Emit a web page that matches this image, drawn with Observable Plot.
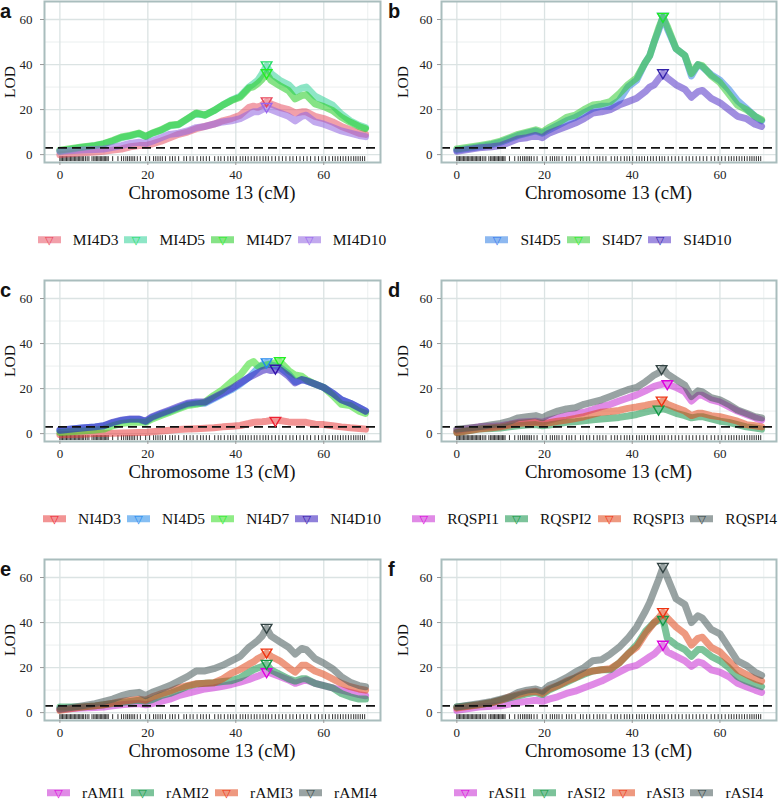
<!DOCTYPE html>
<html><head><meta charset="utf-8">
<script src="https://cdn.jsdelivr.net/npm/d3@7"></script>
<script src="https://cdn.jsdelivr.net/npm/@observablehq/plot@0.6"></script>
<style>
body{margin:0;background:#fff}
#root{position:relative;width:778px;height:804px;overflow:hidden;font-family:"Liberation Serif",serif;color:#111}
.abs{position:absolute}
.letter{font-family:"Liberation Sans",Arial,sans-serif;font-weight:bold;font-size:20px;line-height:1}
.ylab{font-size:15.5px;line-height:1;transform:translate(-50%,-50%) rotate(-90deg);white-space:nowrap}
.xlab{font-size:18.8px;line-height:1;transform:translate(-50%,-50%);white-space:nowrap}
.legend{display:flex;align-items:center;transform:translateY(-50%);white-space:nowrap;font-size:15.5px;line-height:1}
.item{display:flex;align-items:center;margin-right:6px}
.item:last-child{margin-right:0}
.key{position:relative;width:23px;height:7px;margin-right:12px}
.key span{position:absolute;left:50%;top:50%;transform:translate(-50%,-52%);font-family:"DejaVu Sans",sans-serif;font-size:11px;line-height:1}
svg text{font-family:"Liberation Serif",serif !important;font-size:13px}
</style></head><body><div id="root"></div>
<script>
// ---------- data ----------
const cM = [0, 5, 8, 10, 12, 14, 16, 18, 19.5, 21, 23, 25, 27, 29, 31, 33, 35, 37, 39, 41, 43, 44, 45, 46, 47, 48, 50, 52, 53.5, 55, 56, 58, 60, 62, 64, 66, 68, 69.5];

const markers = [0,0.3,0.6,0.9,1.2,1.5,1.8,2.1,2.4,2.7,3.0,3.3,3.6,3.9,4.2,4.5,4.8,5.1,5.4,5.8,6.2,6.6,7.3,7.7,8.0,8.3,8.6,8.9,9.2,9.5,9.8,10.1,10.4,10.7,11.0,12.0,13.2,14.0,14.5,15.0,15.4,15.8,16.2,16.6,17.0,17.6,18.3,19.5,20.4,21.3,21.8,22.3,22.8,23.3,24.0,25.0,25.6,26.2,27.0,28.2,28.8,29.6,30.3,31.2,32.0,32.6,33.3,34.0,35.2,36.0,36.6,37.4,38.2,38.8,39.4,40.1,41.0,41.6,42.2,42.8,43.5,44.2,44.8,45.5,46.2,46.8,47.4,48.2,49.0,49.8,50.6,51.4,52.3,53.0,53.8,54.6,55.4,56.2,57.0,58.0,58.8,59.6,60.4,61.2,62.0,62.6,63.2,63.8,64.4,65.0,65.6,66.2,66.8,67.3,67.8,68.3,68.8,69.3];

const xTicks = [0, 20, 40, 60];
const yTicks = [0, 20, 40, 60];
const xMinor = [10, 30, 50, 70];
const yMinor = [10, 30, 50];
const threshold = [3];

// panel a
const namesA = ["MI4D3", "MI4D5", "MI4D7", "MI4D10"];
const MI4D3  = [0,0.8,1.2,1.5,2,2.5,3.5,4,4,4.8,6,7.5,9,10,11.5,12.5,13.5,15,16,17.5,21,21.5,21,22,23.5,22.5,21,20,18.5,19,19,17,16,14.5,12.5,11,9.5,9];
const MI4D5  = [1.5,3.2,4,4.8,6,7.5,8.3,9.3,8,9.4,10.8,12.8,13.3,15.8,18.3,17.5,19.5,22,24.2,26,30,31.5,33,36,39.5,36,33,31,28,29.5,30,26,24,22,18,15,13,12];
const MI4D7  = [2,3.4,4.1,4.9,6.3,7.8,8.5,9.6,8.1,9.6,11,13,13.5,16,18.5,17.5,19.5,22,24,25.5,29.6,30.1,31.6,33.5,36,33,30.6,28.4,24.7,26.2,26.6,22.5,21.3,19.6,16.6,14.4,12.5,11.5];
const MI4D10 = [1.5,2,2.3,2.5,3.2,4,5,5.5,5,6,7.5,9,9.5,10.5,12,12.5,13.5,14.5,15,16,18,19,19,20,21,20,18.5,17,15,17,17.5,14.5,13.5,12,10.5,9.5,8.5,8];
const peakXA = [47, 47, 47, 47];
const peakYA = [23.5, 39.5, 36, 21];

// panel b
const namesB = ["SI4D5", "SI4D7", "SI4D10"];
const SI4D5  = [2,3.5,4.5,5.5,7,8.5,9.5,10.5,9.5,11,13,15,16.5,18.5,20.5,21.5,21.5,24,30,33,41,44,50,55,61,56,47,44,35,40,39,35.5,33,29,24,20.5,17,15];
const SI4D7  = [2.5,4,5,6,7.5,9,10,11,10,12,14,16.5,17.5,20,22,22.5,23.5,27,31,34,41,44,50,56,61,57,47,44,36,40,39.5,35,32,27,22,20,17,15.5];
const SI4D10 = [1.5,3,3.5,4,5.5,7,7.5,8.5,7.5,9.5,11,12.5,14,16,18.5,19,20,22,23.5,25,28,30,31,33.5,36,34,31,29,25.5,28,28.5,25,23,20,17,16,13.5,12.5];
const peakXB = [47, 47, 47];
const peakYB = [61, 61, 36];

// panel c
const namesC = ["NI4D3", "NI4D5", "NI4D7", "NI4D10"];
const NI4D3  = [-0.5,-0.3,0,0,0.2,0.3,0.4,0.5,0.5,0.8,1.2,1.5,1.8,2,2.2,2.4,2.6,3,3.3,3.6,4.5,5,5.2,5.3,5.5,5.8,5.8,5.2,5,5,5,4.2,4,3.5,3,2.6,2.3,2];
const NI4D5  = [1.5,2.5,3,3.5,4.8,5.8,6.3,6.3,5.3,7.2,8.7,10,11.5,13,13.5,13.5,15.5,17.5,19.5,22,25,27,29,30.5,31.5,30.5,29.5,26.5,23,24,23.5,22,20.5,18,15,13.5,11.5,10];
const NI4D7  = [0.5,1.2,1.6,2,3.5,4.5,5,5,5,6.5,8,9.5,11,12.5,13,14,17,19.5,23,26,31,32,30,30,30.5,31,32,28,26,25.5,24,22,20.5,17,13,12.5,10,9];
const NI4D10 = [1.5,2.5,3,3.5,5,6,6.5,6.5,5.5,7.5,9,10.5,12,13.5,14,14,16,18,20,22.5,25,26,27,28,28.5,28,28.5,25.5,22.5,24,23.5,22,20.5,18,15,13.5,11.5,10];
const peakXC = [49, 47, 50, 49];
const peakYC = [5.5, 31.5, 32, 28.7];

// panel d
const namesD = ["RQSPI1", "RQSPI2", "RQSPI3", "RQSPI4"];
const RQSPI1 = [1.5,3,3.3,3.5,4.2,5,5.3,5.5,5,6,7,8,8.7,9.5,10.7,12,13,14.5,15.8,17.2,19,20,21,21.5,22,22,20.5,18.5,14.5,17,17,15,14,12,10,8.5,7,6];
const RQSPI2 = [0.5,2,2.3,2.5,3,3.5,3.8,4,3.5,3.8,4.4,5,5.3,5.7,6.2,6.5,6.8,7.2,7.8,8.5,9.5,10,10.3,10.5,11,10.5,9,8,7,7.5,7.5,6.5,5.5,5,4,3,2.5,2];
const RQSPI3 = [0.5,2,2.6,3,3.8,4.5,4.8,5,4.5,4.8,5.5,6,6.7,7.5,8.5,9.5,9.8,10.3,11.2,11.8,12.5,13,13.3,13.5,14.5,13,11.5,10,8,9,9,8,7.5,6.5,5.5,4,3.5,3];
const RQSPI4 = [2,3,4,4.5,5.5,7,7.5,8,7,8.5,10,11,11.5,13,14,15,16.5,18,19.5,20.5,23,24.5,26,27,29,26.5,24,21.5,16.5,19,18.5,16,15,13,10.5,9,7.5,7];
const peakXD = [48, 46, 46.7, 46.7];
const peakYD = [21.8, 10.5, 14.5, 28.5];

// panel e
const namesE = ["rAMI1", "rAMI2", "rAMI3", "rAMI4"];
const rAMI1 = [1.5,2,2.3,2.5,3,3.5,3.8,4,3.5,4,5,6,7.5,8.5,9.5,10.5,11,11.7,12.5,13.5,14.7,15.5,16.2,17,18,17.5,16,14.5,13,14,14.5,13,12,11,10,9,8,7.5];
const rAMI2 = [2.5,2.5,3,3.5,4,4.5,5,5.5,5,5.8,7.5,8.5,10,11.7,12.7,13,13.3,13.8,14.2,15.5,18,19,19.8,20.5,21.5,19,17,15,14,15,15,13,12,11,8.5,7,6,6];
const rAMI3 = [1,2.5,3,3.5,4.2,5,5.5,6,5.5,7,8.3,9.5,11,12,12.8,13,13.3,15,17.5,19.2,21.5,22.5,24,25,26.5,25,23,20,18,21,21,18.5,17,15,13,11.5,10.5,10];
const rAMI4 = [1.5,3,4,5,6,7.5,8.5,9,7.5,9,10.5,12,14,16,18.5,18.5,19.5,21,23,25,29,30.5,32,34,37.5,34,31.5,29,26,28.5,28,24,22,19.5,16,13.5,12,11.5];
const peakXE = [47, 47, 47, 47];
const peakYE = [17.8, 21.5, 26.5, 37.5];

// panel f
const namesF = ["rASI1", "rASI2", "rASI3", "rASI4"];
const rASI1 = [1,2.5,2.8,3,3.8,4.5,5,5.5,5,6,7,8.5,9.5,11,12.5,14,16,18,20,21,23.5,24.8,26,28,30,27,25,23,20.5,22.5,22,19,18,16,13,11.5,10,9];
const rASI2 = [2.5,3.5,4.5,5.5,6.5,7.5,8.3,9,8,10,11.8,13.5,15.3,17,18.5,19,19,22,26,30,36,38,40,41,41.5,33,30,28,25,28,28,25,23,20,16,14,12.5,11.5];
const rASI3 = [2,3.5,4.5,5.5,7,8,9,9.5,8.5,10.5,12,14,15.5,17.5,18.5,19,19.5,22,26,29,35,37.5,40,42,44.5,42,38,35,30,33,33.5,29,27,23,19,17,15,14];
const rASI4 = [2.5,4,5,6,7,9,10,10.5,9.5,12,13.5,15.5,18,20,23,23.5,26,29,33,38,45,49,54,59,64.5,60,50.5,48,40,43,42,37,35,29,23,21,18,16.5];
const peakXF = [47, 47, 47, 47];
const peakYF = [30, 41, 44.5, 64.5];

// ---------- colours ----------
const lineA = ["#E75264", "#31D197", "#22CC22", "#9062E0"];
const triA  = ["#E8465A", "#22DD66", "#22EE22", "#9966EE"];
const lineB = ["#2F7DE3", "#33CC33", "#5231C6"];
const triB  = ["#3377EE", "#22EE22", "#3322AA"];
const lineC = ["#E73C3C", "#2188EA", "#33DD22", "#3318BB"];
const triC  = ["#EE2233", "#2288EE", "#22EE22", "#3311AA"];
const lineQ = ["#C62AD1", "#109147", "#E04518", "#455757"];
const triQ  = ["#DD00DD", "#119944", "#EE3311", "#334444"];

const panels = [
  {letter:"a", col:0, row:0, names:namesA, vals:[MI4D3,MI4D5,MI4D7,MI4D10], px:peakXA, py:peakYA, line:lineA, tri:triA},
  {letter:"b", col:1, row:0, names:namesB, vals:[SI4D5,SI4D7,SI4D10], px:peakXB, py:peakYB, line:lineB, tri:triB},
  {letter:"c", col:0, row:1, names:namesC, vals:[NI4D3,NI4D5,NI4D7,NI4D10], px:peakXC, py:peakYC, line:lineC, tri:triC},
  {letter:"d", col:1, row:1, names:namesD, vals:[RQSPI1,RQSPI2,RQSPI3,RQSPI4], px:peakXD, py:peakYD, line:lineQ, tri:triQ},
  {letter:"e", col:0, row:2, names:namesE, vals:[rAMI1,rAMI2,rAMI3,rAMI4], px:peakXE, py:peakYE, line:lineQ, tri:triQ},
  {letter:"f", col:1, row:2, names:namesF, vals:[rASI1,rASI2,rASI3,rASI4], px:peakXF, py:peakYF, line:lineQ, tri:triQ}
];

// ---------- drawing ----------
const triDown = {
  draw(ctx, size) {
    const r = Math.sqrt(size / Math.PI);
    ctx.moveTo(-r, -0.72 * r);
    ctx.lineTo(r, -0.72 * r);
    ctx.lineTo(0, 0.98 * r);
    ctx.closePath();
  }
};

const root = document.getElementById("root");
const rowTop = [0, 279, 558];
const legendOffset = [240, 240, 235];
const W = 389, MT = 1, PH = 161, MB = 44;

function addDiv(cls, text, left, top) {
  const d = document.createElement("div");
  d.className = "abs " + cls;
  d.textContent = text;
  d.style.left = left + "px";
  d.style.top = top + "px";
  root.appendChild(d);
  return d;
}

for (const p of panels) {
  const top = rowTop[p.row];
  const left = p.col * W;
  const mL = p.col === 0 ? 44 : 52;
  const mR = p.col === 0 ? 9 : 2;
  const pad = p.col === 0 ? 8 : 5;

  const rows = [];
  p.names.forEach((n, i) => p.vals[i].forEach((v, j) => rows.push({series: n, x: cM[j], y: v, c: p.line[i]})));
  const peaks = p.names.map((n, i) => ({series: n, x: p.px[i], y: p.py[i], c: p.tri[i]}));

  const svg = Plot.plot({
    width: W, height: MT + PH + MB,
    marginLeft: mL, marginRight: mR, marginTop: MT, marginBottom: MB,
    x: {domain: [-3.5, 72.9]},
    y: {domain: [-3.5, 68]},
    color: {type: "identity"},
    style: {fontFamily: "'Liberation Serif', serif", fontSize: "13px", color: "#222", background: "white"},
    marks: [
      Plot.gridX(xMinor, {stroke: "#e6ebeb", strokeOpacity: 1, strokeWidth: 0.8}),
      Plot.gridY(yMinor, {stroke: "#e6ebeb", strokeOpacity: 1, strokeWidth: 0.8}),
      Plot.gridX(xTicks, {stroke: "#dbe3e3", strokeOpacity: 1, strokeWidth: 1.3}),
      Plot.gridY(yTicks, {stroke: "#dbe3e3", strokeOpacity: 1, strokeWidth: 1.3}),
      Plot.ruleX(markers, {x: d => d, y1: -3.1, y2: -0.9, stroke: "#111", strokeWidth: 0.9, strokeOpacity: 0.95}),
      Plot.line(rows, {x: "x", y: "y", z: "series", stroke: "c", strokeWidth: 7, strokeOpacity: 0.55, strokeLinejoin: "round", strokeLinecap: "round"}),
      Plot.ruleY(threshold, {stroke: "#111", strokeWidth: 1.8, strokeDasharray: "9,5"}),
      Plot.dot(peaks, {x: "x", y: "y", stroke: "c", symbol: triDown, r: 5.3, strokeWidth: 1.4, fill: "none"}),
      Plot.frame({stroke: "#a9bdbd", strokeWidth: 2}),
      Plot.axisX(xTicks, {tickSize: 3, tickPadding: 4, label: null, stroke: "#999", fill: "#222", fontSize: 13}),
      Plot.axisY(yTicks, {tickSize: 4, tickPadding: pad, label: null, stroke: "#999", fill: "#222", fontSize: 13})
    ]
  });
  svg.style.position = "absolute";
  svg.style.left = left + "px";
  svg.style.top = top + "px";
  svg.style.fontFamily = "'Liberation Serif', serif";
  root.appendChild(svg);

  const cx = left + mL + (W - mL - mR) / 2;
  addDiv("letter", p.letter, left + (p.col === 0 ? 0 : -1), top + 0.5);
  addDiv("ylab", "LOD", left + (p.col === 0 ? 10 : 14), top + MT + PH / 2);
  addDiv("xlab", "Chromosome 13 (cM)", cx, top + MT + PH + 31);

  const lg = document.createElement("div");
  lg.className = "abs legend";
  lg.style.top = (top + legendOffset[p.row]) + "px";
  p.names.forEach((n, i) => {
    const it = document.createElement("div");
    it.className = "item";
    const k = document.createElement("div");
    k.className = "key";
    const bg = d3.color(p.line[i]); bg.opacity = 0.55;
    k.style.background = bg.toString();
    const t = document.createElement("span");
    t.textContent = "▽";
    t.style.color = p.tri[i];
    k.appendChild(t);
    const lab = document.createElement("div");
    lab.textContent = n;
    it.appendChild(k); it.appendChild(lab);
    lg.appendChild(it);
  });
  root.appendChild(lg);
  const w = lg.getBoundingClientRect().width;
  let lx = cx - w / 2;
  if (lx + w > 777) lx = 777 - w;
  lg.style.left = lx + "px";
}
</script></body></html>
